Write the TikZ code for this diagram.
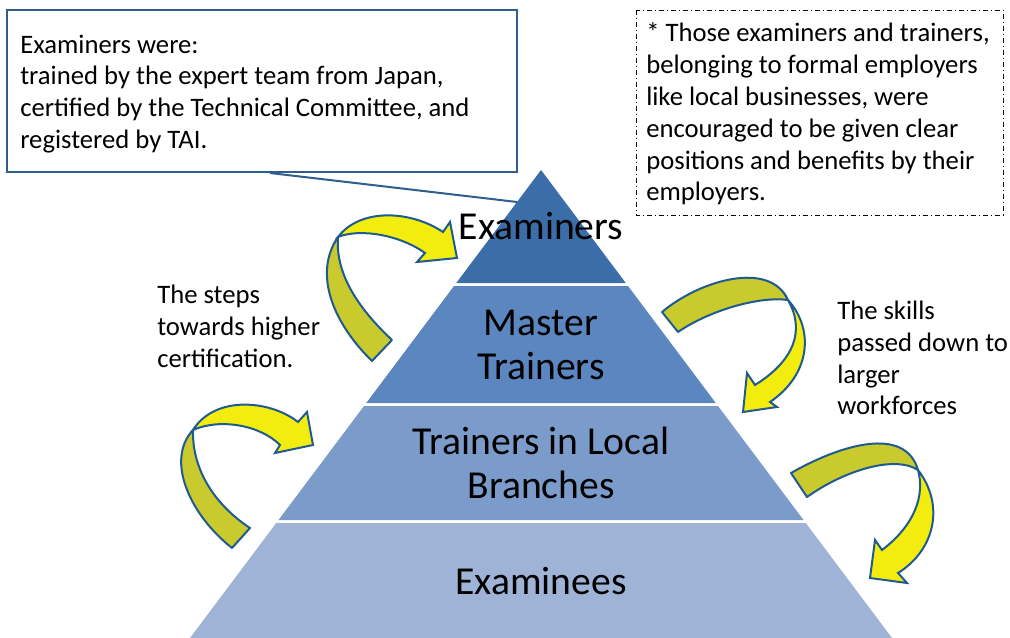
\documentclass[tikz,border=0pt]{standalone}
\usepackage{fontspec}
\setmainfont{Carlito}
\definecolor{tierA}{HTML}{3B6EA8}
\definecolor{tierB}{HTML}{5B86BF}
\definecolor{tierC}{HTML}{7B9BCA}
\definecolor{tierD}{HTML}{9EB3D5}
\definecolor{arrowline}{HTML}{1F5B8E}
\definecolor{olivepart}{HTML}{C9CA2E}
\definecolor{yellowpart}{HTML}{F3ED0F}
\definecolor{boxline}{HTML}{2E5E8E}
\begin{document}
\begin{tikzpicture}[x=0.75pt,y=-0.75pt,
  bodytext/.style={font=\fontsize{20}{23.9}\selectfont, align=left, inner sep=0pt, anchor=west},
  tiertext/.style={font=\fontsize{29.7}{33}\selectfont, align=center, inner sep=0pt},
  bandback/.style={fill=olivepart, draw=arrowline, line width=1.5pt, line join=round},
  bandfront/.style={fill=yellowpart, draw=arrowline, line width=1.5pt, line join=miter},
  calloutbox/.style={draw=boxline, line width=1.5pt},
  notebox/.style={draw=black, line width=0.7pt, dash pattern=on 4pt off 2pt on 1pt off 2pt}
]
\useasboundingbox (0,0) rectangle (1010,638);
\clip (0,0) rectangle (1010,638);

% pyramid tiers
\fill[tierA] (541,170) -- (625.75,283) -- (456.25,283) -- cycle;
\fill[tierB] (454,286) -- (628,286) -- (715.75,403) -- (366.25,403) -- cycle;
\fill[tierC] (364,406) -- (718,406) -- (803.5,520) -- (278.5,520) -- cycle;
\fill[tierD] (276.25,523) -- (805.75,523) -- (892,638) -- (190,638) -- cycle;

\node[tiertext] (examiners) at (541,226) {Examiners};
\node[tiertext] (master) at (541,345) {Master\\Trainers};
\node[tiertext] (trainers) at (541,463) {Trainers in Local\\Branches};
\node[tiertext] (examinees) at (541,581) {Examinees};

% callout box
\draw[calloutbox] (7,10) rectangle (517,172);
\node[bodytext] (calltext) at (20,94) {Examiners were:\\trained by the expert team from Japan,\\certified by the Technical Committee, and\\registered by TAI.};
\coordinate (callfoot) at (270,173);
\coordinate (callpoint) at (517,202);
\draw[boxline, line width=1.5pt] (callfoot) -- (callpoint);

% note box
\draw[notebox] (636,10) rectangle (1003,215);
\node[bodytext] (notetext) at (646,114) {* Those examiners and trainers,\\belonging to formal employers\\like local businesses, were\\encouraged to be given clear\\positions and benefits by their\\employers.};

% side texts
\node[bodytext] (stepstext) at (157,326) {The steps\\towards higher\\certification.};
\node[bodytext] (skillstext) at (837,358) {The skills\\passed down to\\larger\\workforces};

% arrow 1 (upper left)
\path[bandback] (372,361) .. controls (335,325) and (312,275) .. (338,237)
  .. controls (335,275) and (360,310) .. (392,340) -- cycle;
\path[bandfront] (338,237) .. controls (360,208) and (410,210) .. (443,232)
  -- (450,222) -- (457,258) -- (417,262) -- (425,253)
  .. controls (400,235) and (360,228) .. (338,237) -- cycle;

% arrow 2 (upper right)
\path[bandback] (662,312) .. controls (700,280) and (770,260) .. (788,300)
  .. controls (760,296) and (710,310) .. (678,332) -- cycle;
\path[bandfront] (788,300) .. controls (815,330) and (810,375) .. (770,402)
  -- (777,407) -- (743,412) -- (747,373) -- (755,385)
  .. controls (795,360) and (805,330) .. (788,300) -- cycle;

% arrow 3 (lower left)
\path[bandback] (232,548) .. controls (190,515) and (165,460) .. (193,430)
  .. controls (192,470) and (215,505) .. (250,528) -- cycle;
\path[bandfront] (193,430) .. controls (215,395) and (270,400) .. (298,422)
  -- (307,412) -- (313,445) -- (275,453) -- (280,445)
  .. controls (260,425) and (220,418) .. (193,430) -- cycle;

% arrow 4 (lower right)
\path[bandback] (791,473) .. controls (840,445) and (905,425) .. (918,470)
  .. controls (895,455) and (845,470) .. (807,497) -- cycle;
\path[bandfront] (918,470) .. controls (945,505) and (935,550) .. (898,573)
  -- (907,583) -- (870,578) -- (875,540) -- (882,550)
  .. controls (915,525) and (925,495) .. (918,470) -- cycle;
\end{tikzpicture}
\end{document}
